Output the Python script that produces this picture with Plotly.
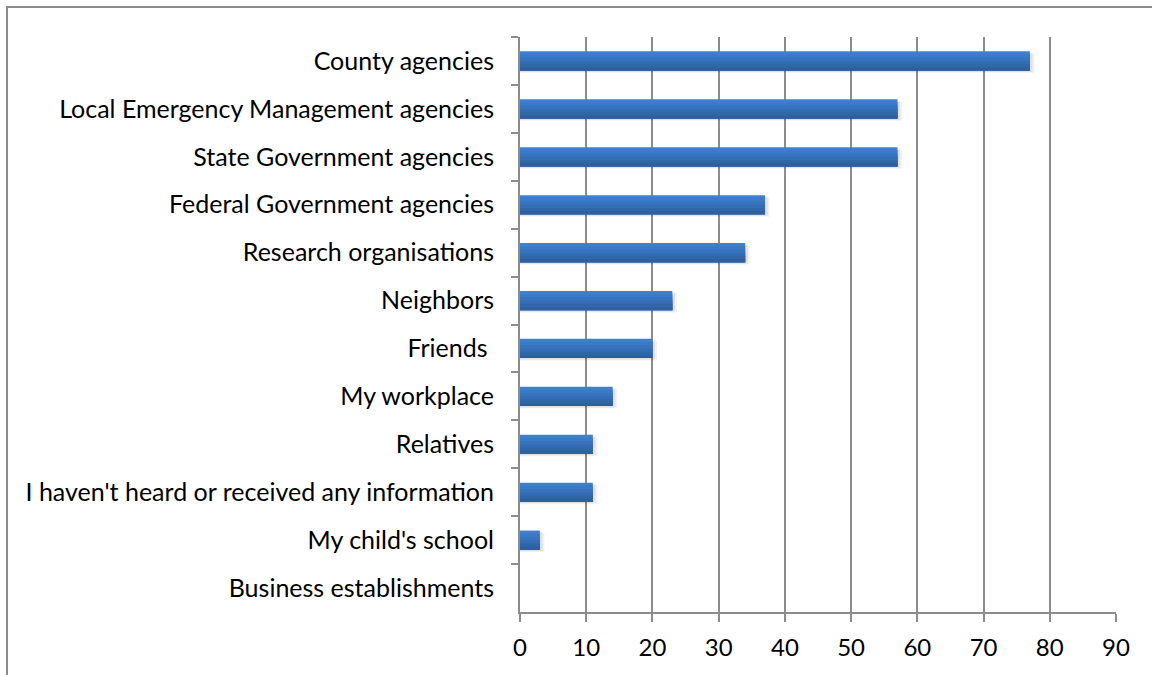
import plotly.graph_objects as go

# Information sources, listed top to bottom
categories = [
    "County agencies",
    "Local Emergency Management agencies",
    "State Government agencies",
    "Federal Government agencies",
    "Research organisations",
    "Neighbors",
    "Friends\u00a0",
    "My workplace",
    "Relatives",
    "I haven't heard or received any information",
    "My child's school",
    "Business establishments",
]
values = [77, 57, 57, 37, 34, 23, 20, 14, 11, 11, 3, 0]

x_ticks = [0, 10, 20, 30, 40, 50, 60, 70, 80, 90]

FONT = "Lato, 'Open Sans', sans-serif"
GRID = "#8c8c8c"
BAR_W = 0.4

fig = go.Figure()

# soft drop shadow under each bar
for dx, dy, a in [(0.7, 0.05, 0.05), (0.4, 0.03, 0.07)]:
    fig.add_trace(go.Bar(
        y=categories,
        x=[v + dx if v > 0 else 0 for v in values],
        orientation="h",
        width=BAR_W,
        offset=-BAR_W / 2 + dy,
        marker=dict(color=f"rgba(0,0,0,{a})", line=dict(width=0)),
        hoverinfo="skip",
        showlegend=False,
    ))

# bar body: overlapping bands, each running to the bar's lower edge,
# give a light-to-dark shading from top to bottom
band_colors = ["#3e80ce", "#3b7ac6", "#3774bd", "#346db3", "#3166a9", "#2e609f"]
n = len(band_colors)
step = BAR_W / n
for i, c in enumerate(band_colors):
    fig.add_trace(go.Bar(
        y=categories,
        x=values,
        orientation="h",
        width=BAR_W - i * step,
        offset=-BAR_W / 2 + i * step,
        marker=dict(color=c, line=dict(width=0)),
        hoverinfo="skip" if i else None,
        showlegend=False,
    ))

fig.update_layout(
    width=1152,
    height=675,
    barmode="overlay",
    paper_bgcolor="white",
    plot_bgcolor="white",
    margin=dict(l=520, r=36, t=37, b=63),
    font=dict(family=FONT, size=25, color="#000000"),
    shapes=[
        dict(
            type="rect", xref="paper", yref="paper",
            x0=-0.8607, x1=1.3, y0=-0.3, y1=1.0522,
            line=dict(color="#8c8c8c", width=2),
            fillcolor="rgba(0,0,0,0)", layer="below",
        )
    ],
)

fig.update_xaxes(
    range=[0, 90],
    tickvals=x_ticks,
    ticktext=[str(t) for t in x_ticks],
    showgrid=True, gridcolor=GRID, gridwidth=2,
    showline=True, linecolor=GRID, linewidth=2,
    ticks="outside", ticklen=8, tickcolor=GRID, tickwidth=2,
    zeroline=False,
    tickfont=dict(family=FONT, size=24),
    ticklabelstandoff=5,
)

fig.update_yaxes(
    type="category",
    categoryorder="array",
    categoryarray=categories,
    autorange="reversed",
    showgrid=False,
    showline=True, linecolor=GRID, linewidth=2,
    ticks="outside", ticklen=7, tickcolor=GRID, tickwidth=2,
    tickson="boundaries",
    tickfont=dict(family=FONT, size=25),
    ticklabelstandoff=19,
)

fig.write_html("out.html")
